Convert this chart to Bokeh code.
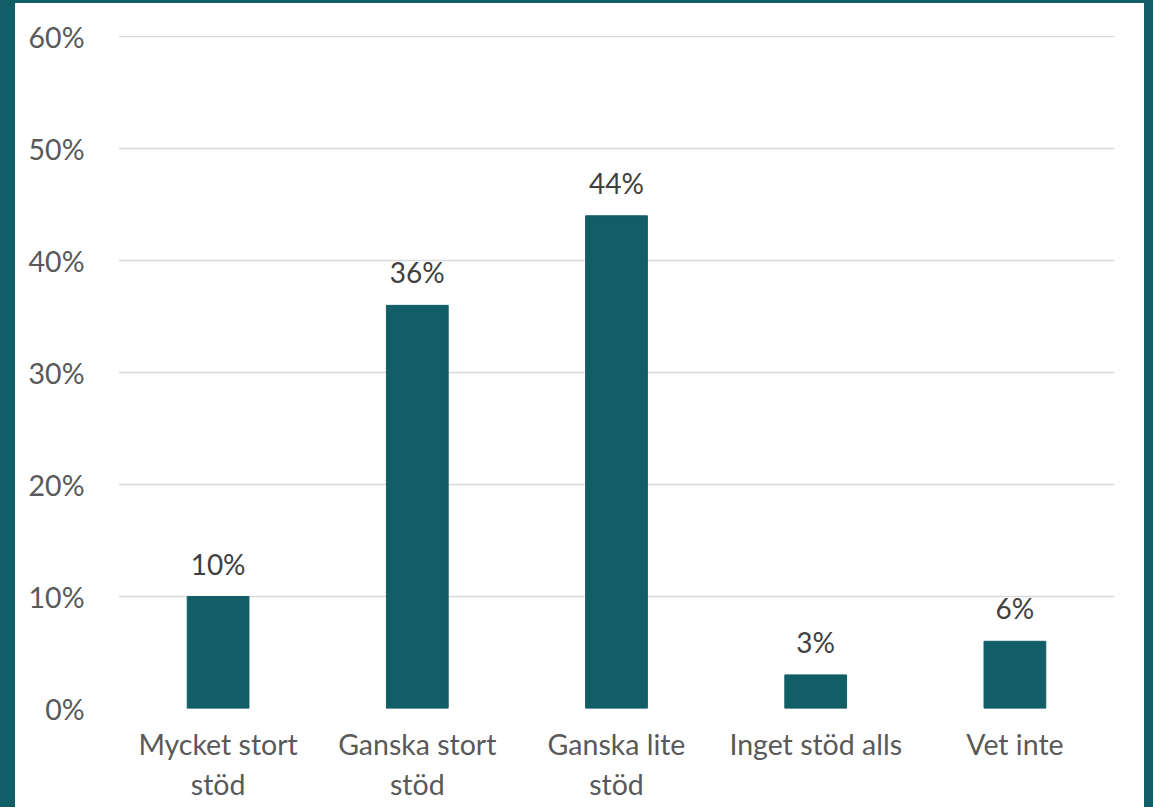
from bokeh.plotting import figure
from bokeh.models import ColumnDataSource, FixedTicker, Range1d, NumeralTickFormatter
from bokeh.layouts import column
from bokeh.embed import file_html
from bokeh.resources import INLINE
from bokeh.core.properties import value

categories = ["Mycket stort\nstöd", "Ganska stort\nstöd", "Ganska lite\nstöd", "Inget stöd alls", "Vet inte"]
values = [0.10, 0.36, 0.44, 0.03, 0.06]
value_labels = ["10%", "36%", "44%", "3%", "6%"]
y_ticks = [0, 0.1, 0.2, 0.3, 0.4, 0.5, 0.6]

TEAL = "#125E66"
FONT = "Lato"

xs = list(range(len(categories)))
src = ColumnDataSource(dict(x=xs, top=values, lab=value_labels))

p = figure(width=1129, height=804, output_backend="svg", toolbar_location=None,
           x_range=Range1d(-0.5, len(categories) - 0.5), y_range=Range1d(0, 0.601),
           min_border_left=103, min_border_right=30, min_border_top=32, min_border_bottom=99,
           background_fill_color="white", border_fill_color="white")
p.frame_width = 996
p.frame_height = 673
p.outline_line_color = None
p.styles = {"background-color": "white"}

p.vbar(x="x", top="top", width=0.31, source=src, color=TEAL)
p.text(x="x", y="top", text="lab", source=src, text_align="center", text_baseline="alphabetic",
       y_offset=-33, text_font=value(FONT), text_font_size="28px", text_color="#404040")

p.xgrid.grid_line_color = None
p.ygrid.grid_line_color = "#D9D9D9"
p.ygrid.grid_line_width = 1.5
p.ygrid.ticker = FixedTicker(ticks=y_ticks)

p.yaxis.ticker = FixedTicker(ticks=y_ticks)
p.yaxis.formatter = NumeralTickFormatter(format="0%")
p.xaxis.ticker = FixedTicker(ticks=xs)
p.xaxis.major_label_overrides = {i: c for i, c in enumerate(categories)}

for ax in (p.xaxis, p.yaxis):
    ax.axis_line_color = None
    ax.major_tick_line_color = None
    ax.minor_tick_line_color = None
    ax.major_label_text_font = FONT
    ax.major_label_text_font_size = "28.5px"
    ax.major_label_text_color = "#595959"
p.yaxis.major_label_standoff = 28
p.xaxis.major_label_standoff = 12

layout = column(p, styles={"background-color": TEAL, "padding": "3px 9px 0px 15px"})

open("out.html", "w").write(file_html(layout, INLINE))
